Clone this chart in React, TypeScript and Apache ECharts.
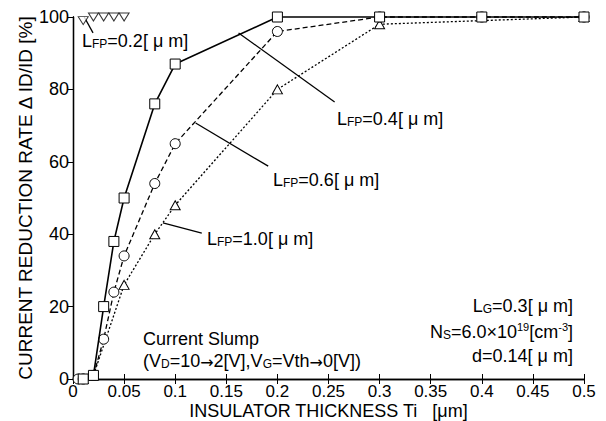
import React, { useEffect, useRef } from "react";
import * as echarts from "echarts";

const xTicks = [0, 0.05, 0.1, 0.15, 0.2, 0.25, 0.3, 0.35, 0.4, 0.45, 0.5];
const yTicks = [0, 20, 40, 60, 80, 100];

const lfp02X = [0.01, 0.02, 0.03, 0.04, 0.05];
const lfp02Y = [99, 100, 100, 100, 100];

const lfp04X = [0.01, 0.02, 0.03, 0.04, 0.05, 0.08, 0.1, 0.2, 0.3, 0.4, 0.5];
const lfp04Y = [0, 1, 20, 38, 50, 76, 87, 100, 100, 100, 100];

const lfp06X = [0.005, 0.01, 0.02, 0.03, 0.04, 0.05, 0.08, 0.1, 0.2, 0.3, 0.4, 0.5];
const lfp06Y = [0, 0, 1, 11, 24, 34, 54, 65, 96, 100, 100, 100];

const lfp10X = [0.01, 0.02, 0.05, 0.08, 0.1, 0.2, 0.3, 0.5];
const lfp10Y = [0, 1, 26, 40, 48, 80, 98, 100];

// leader lines (data coordinates): [x1, y1, x2, y2]
const leader02 = [0.011, 100, 0.0196, 95.6];
const leader04 = [0.162, 95.6, 0.256, 76.5];
const leader06 = [0.12, 70.7, 0.191, 58.8];
const leader10 = [0.088, 43.1, 0.126, 40.3];

const FONT = "Liberation Sans";

function pairs(xs: number[], ys: number[]) {
  return xs.map((x, i) => [x, ys[i]]);
}

function leader(l: number[]) {
  return {
    silent: true,
    symbol: ["none", "none"],
    label: { show: false },
    lineStyle: { color: "#000", width: 1.3, type: "solid" },
    data: [[{ coord: [l[0], l[1]] }, { coord: [l[2], l[3]] }]],
  };
}

const rich = {
  n: { fontSize: 18, fontFamily: FONT, color: "#000", lineHeight: 20, verticalAlign: "bottom" },
  s: { fontSize: 12, fontFamily: FONT, color: "#000", lineHeight: 15, verticalAlign: "bottom" },
  u: { fontSize: 11, fontFamily: FONT, color: "#000", lineHeight: 13, verticalAlign: "top" },
  a: { fontSize: 16, fontFamily: "DejaVu Sans", color: "#000", lineHeight: 19, verticalAlign: "bottom" },
};

function lfpText(v: string, x: number, y: number) {
  return {
    type: "text",
    x,
    y,
    style: {
      text: `{n|L}{s|FP}{n|=${v}[ μ m]}`,
      rich,
      verticalAlign: "middle",
      align: "left",
    },
  };
}

function plainText(t: string, x: number, y: number, align: string) {
  return {
    type: "text",
    x,
    y,
    style: { text: t, rich, verticalAlign: "middle", align },
  };
}

export default function App() {
  const ref = useRef<HTMLDivElement>(null);
  useEffect(() => {
    if (!ref.current) return;
    const chart = echarts.init(ref.current, null, { renderer: "svg" });
    const axisLine = { show: true, lineStyle: { color: "#000", width: 1.3 } };
    const baseX = {
      type: "value",
      min: xTicks[0],
      max: xTicks[xTicks.length - 1],
      interval: 0.05,
      splitLine: { show: false },
      axisLine,
    };
    const baseY = {
      type: "value",
      min: yTicks[0],
      max: yTicks[yTicks.length - 1],
      interval: 20,
      splitLine: { show: false },
      axisLine,
    };
    const markerStyle = { color: "#fff", borderColor: "#000", borderWidth: 1 };
    chart.setOption({
      animation: false,
      backgroundColor: "#fff",
      grid: {
        left: 73,
        right: 22,
        top: 17,
        bottom: 42,
        containLabel: false,
        outerBoundsMode: "none",
      },
      xAxis: [
        {
          ...baseX,
          position: "bottom",
          name: "INSULATOR THICKNESS Ti   [μm]",
          nameLocation: "middle",
          nameGap: 23,
          nameMoveOverlap: false,
          nameTextStyle: { fontFamily: FONT, fontSize: 18, color: "#000", lineHeight: 18 },
          axisTick: { show: true, inside: true, length: 5, lineStyle: { color: "#000" } },
          axisLabel: {
            fontFamily: FONT,
            fontSize: 17,
            lineHeight: 16,
            color: "#000",
            margin: 4,
            formatter: (v: number) => String(Number(v.toFixed(2))),
          },
        },
        {
          ...baseX,
          position: "top",
          axisTick: { show: true, inside: true, length: 5, lineStyle: { color: "#000" } },
          axisLabel: { show: false },
        },
      ],
      yAxis: [
        {
          ...baseY,
          position: "left",
          name: "CURRENT REDUCTION RATE Δ ID/ID [%]",
          nameLocation: "middle",
          nameGap: 38,
          nameMoveOverlap: false,
          nameTextStyle: { fontFamily: FONT, fontSize: 19, color: "#000" },
          axisTick: { show: true, inside: false, length: 5, lineStyle: { color: "#000" } },
          axisLabel: { fontFamily: FONT, fontSize: 18, color: "#000", margin: 4 },
        },
        {
          ...baseY,
          position: "right",
          axisTick: { show: true, inside: true, length: 5, lineStyle: { color: "#000" } },
          axisLabel: { show: false },
        },
      ],
      series: [
        {
          name: "LFP=0.2",
          type: "scatter",
          data: pairs(lfp02X, lfp02Y),
          symbol: "triangle",
          symbolRotate: 180,
          symbolSize: [10, 8],
          itemStyle: markerStyle,
          clip: false,
          z: 5,
          markLine: leader(leader02),
        },
        {
          name: "LFP=0.4",
          type: "line",
          data: pairs(lfp04X, lfp04Y),
          symbol: "rect",
          symbolSize: 10,
          showAllSymbol: true,
          itemStyle: markerStyle,
          lineStyle: { color: "#000", width: 1.6, type: "solid" },
          clip: false,
          z: 4,
          markLine: leader(leader04),
        },
        {
          name: "LFP=0.6",
          type: "line",
          data: pairs(lfp06X, lfp06Y),
          symbol: "circle",
          symbolSize: 10,
          showAllSymbol: true,
          itemStyle: markerStyle,
          lineStyle: { color: "#000", width: 1.3, type: [5, 3] },
          clip: false,
          z: 3,
          markLine: leader(leader06),
        },
        {
          name: "LFP=1.0",
          type: "line",
          data: pairs(lfp10X, lfp10Y),
          symbol: "triangle",
          symbolSize: [10, 9],
          showAllSymbol: true,
          itemStyle: markerStyle,
          lineStyle: { color: "#000", width: 1.3, type: [2, 2] },
          clip: false,
          z: 2,
          markLine: leader(leader10),
        },
      ],
      graphic: [
        lfpText("0.2", 82, 40),
        lfpText("0.4", 337, 118),
        lfpText("0.6", 273, 179),
        lfpText("1.0", 207, 238),
        plainText("{n|Current Slump}", 143, 338, "left"),
        plainText(
          "{n|(V}{s|D}{n|=10}{a|→}{n|2[V],V}{s|G}{n|=Vth}{a|→}{n|0[V])}",
          143,
          360,
          "left"
        ),
        plainText("{n|L}{s|G}{n|=0.3[ μ m]}", 573, 305, "right"),
        plainText("{n|N}{s|S}{n|=6.0×10}{u|19}{n|[cm}{u|-3}{n|]}", 573, 331, "right"),
        plainText("{n|d=0.14[ μ m]}", 573, 355, "right"),
      ],
    });
    return () => chart.dispose();
  }, []);
  return (
    <div
      ref={ref}
      style={{ position: "absolute", left: 0, top: 0, width: 606, height: 421 }}
    />
  );
}
